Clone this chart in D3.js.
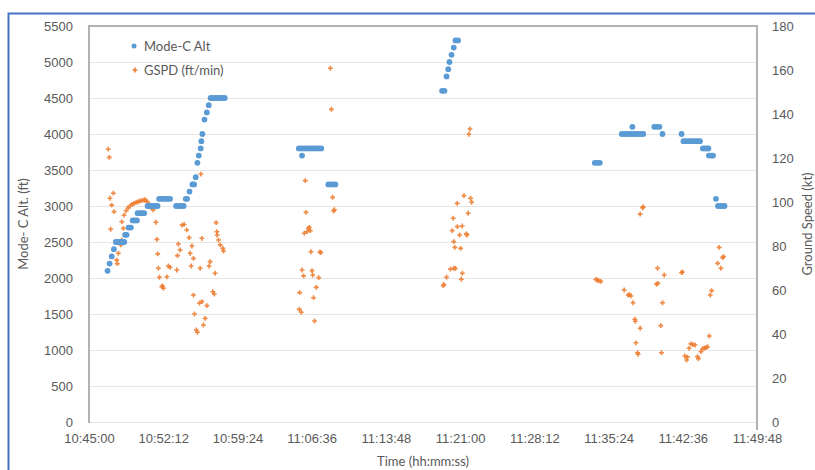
<!DOCTYPE html>
<html>
<head>
<meta charset="utf-8">
<script src="https://cdn.jsdelivr.net/npm/d3@7"></script>
<style>
  html, body { margin: 0; padding: 0; background: #fff; }
  svg { display: block; font-family: Lato, "Open Sans", "Liberation Sans", sans-serif; }
</style>
</head>
<body>
<svg id="chart" width="815" height="470"></svg>
<script>
// Flight track: Mode-C altitude (ft) and ground speed (kt) against time of day.
// Times are seconds after 10:45:00.
const startClock = "10:45:00";

const altSec = [
  108, 120, 132, 145,
  156, 168, 181, 193, 205,
  210, 219, 230, 244,
  254, 266, 279,
  283, 296, 308, 321,
  341, 353, 364, 376, 388, 399,
  408, 421, 434, 447, 459, 472,
  507, 522, 536, 551,
  563, 571, 585, 602, 612, 621,
  631, 639, 650, 654, 660, 672, 686, 697,
  708, 720, 732, 743, 755, 767, 778, 790,
  1221, 1234, 1240, 1247, 1261, 1274, 1287, 1300, 1313, 1326, 1339, 1352,
  1393, 1406, 1420, 1434,
  2055, 2069, 2081, 2091, 2098, 2110, 2123, 2133, 2148,
  2944, 2958, 2973,
  3101, 3115, 3129, 3143, 3157, 3163, 3171, 3185, 3199, 3213, 3226,
  3290, 3305, 3320, 3338, 3449,
  3460, 3473, 3487, 3501, 3515, 3529, 3542, 3556,
  3573, 3584, 3596, 3605,
  3608, 3623, 3632,
  3649, 3661, 3675, 3690, 3699
];
const altFt = [
  2100, 2200, 2300, 2400,
  2500, 2500, 2500, 2500, 2500,
  2600, 2600, 2700, 2700,
  2800, 2800, 2800,
  2900, 2900, 2900, 2900,
  3000, 3000, 3000, 3000, 3000, 3000,
  3100, 3100, 3100, 3100, 3100, 3100,
  3000, 3000, 3000, 3000,
  3100, 3100, 3200, 3300, 3300, 3400,
  3600, 3700, 3800, 3900, 4000, 4200, 4300, 4400,
  4500, 4500, 4500, 4500, 4500, 4500, 4500, 4500,
  3800, 3800, 3700, 3800, 3800, 3800, 3800, 3800, 3800, 3800, 3800, 3800,
  3300, 3300, 3300, 3300,
  4600, 4600, 4800, 4900, 5000, 5100, 5200, 5300, 5300,
  3600, 3600, 3600,
  4000, 4000, 4000, 4000, 4000, 4100, 4000, 4000, 4000, 4000, 4000,
  4100, 4100, 4100, 4000, 4000,
  3900, 3900, 3900, 3900, 3900, 3900, 3900, 3900,
  3800, 3800, 3800, 3800,
  3700, 3700, 3700,
  3100, 3000, 3000, 3000, 3000
];

const gsSec = [
  112, 118, 142, 122, 132, 146, 126, 161, 165, 171, 185, 191, 191, 200,
  204, 216, 227, 239, 251, 262, 274, 286, 297, 309, 321, 329, 338, 347, 356, 364, 373,
  389, 395, 400, 404, 410, 424, 428, 433, 453, 462, 472,
  511, 515, 520, 530, 542, 554, 569, 583, 589, 595, 599, 608, 608, 614,
  624, 631, 643, 647, 651, 657, 657, 666, 676, 686,
  699, 705, 721, 729, 734, 740, 744, 746, 754, 764, 779, 783,
  1224, 1226, 1236, 1240, 1249, 1253, 1259, 1263, 1269, 1278, 1282, 1288,
  1292, 1298, 1302, 1307, 1313, 1323, 1337, 1344, 1349,
  1405, 1411, 1418, 1424, 1428,
  2062, 2066, 2081, 2104, 2114, 2120, 2123, 2124, 2129, 2133, 2143, 2144,
  2157, 2163, 2167, 2172, 2173, 2182, 2196, 2200, 2207, 2211, 2217, 2221, 2227,
  2950, 2958, 2967, 2979,
  3115, 3138, 3145, 3154, 3167, 3177, 3180, 3183, 3193, 3196, 3208, 3208,
  3222, 3226, 3303, 3311, 3309, 3328, 3332, 3338, 3348,
  3449, 3454, 3468, 3478, 3483, 3493, 3503, 3515, 3527, 3542, 3547,
  3562, 3571, 3582, 3591, 3600, 3610, 3616, 3624,
  3659, 3668, 3678, 3688, 3693
];
const gsKt = [
  124, 120.3, 104, 101.7, 98.6, 95.6, 87.6, 73.6, 72, 76.7, 80.5, 82.7, 91, 88,
  94, 96, 97.3, 98.2, 98.9, 99.4, 99.8, 100.1, 100.5, 100.7, 100.9, 100.9, 100.2, 99.3, 98.4, 97.5, 96.4,
  90.8, 83, 76.4, 69.9, 65.8, 61.5, 61.8, 60.8, 66, 70.9, 70.3,
  69.1, 75.6, 80.9, 78.2, 89.5, 89.8, 87.3, 83.8, 76.7, 70.9, 80, 74.4, 57.7, 49.1,
  41.8, 40.8, 54, 69.9, 112.7, 83.5, 54.7, 44.1, 47.1, 52.9,
  70.9, 72.9, 59.2, 58.2, 67.6, 90.6, 86.5, 85, 82.7, 80.5, 78.9, 77.7,
  51.2, 58.8, 49.9, 69.1, 66.4, 85.8, 109.7, 95.3, 86.5, 88, 88.5, 87,
  77.4, 68.8, 66.8, 56.5, 45.9, 61.2, 65.6, 77.3, 77,
  160.8, 142.1, 102.1, 95.9, 96.5,
  62, 62.5, 65.8, 69.5, 87, 92.6, 82, 69.9, 79.4, 69.8, 99.4, 88.8,
  85, 78.9, 64.9, 89.1, 67.6, 102.9, 85.5, 85, 94.9, 130.8, 133.2, 101.7, 99.9,
  64.8, 64.5, 64.2, 63.9,
  60, 57.7, 57.9, 57.3, 54.2, 46.7, 45.8, 36, 31.5, 30.8, 94.5, 42.6,
  97.4, 97.8, 62.6, 63, 69.9, 43.8, 31.5, 54.2, 66.8,
  67.9, 68.2, 30, 28.2, 29.5, 33.5, 35.5, 35.2, 35, 29.7, 28.8,
  32, 33.3, 33.6, 33.8, 34.2, 39.1, 57.7, 59.7,
  72.1, 79.4, 69.9, 74.7, 75.2
];

const timeTicks = ["10:45:00", "10:52:12", "10:59:24", "11:06:36", "11:13:48",
                   "11:21:00", "11:28:12", "11:35:24", "11:42:36", "11:49:48"];
const altTicks = [0, 500, 1000, 1500, 2000, 2500, 3000, 3500, 4000, 4500, 5000, 5500];
const gsTicks = [0, 20, 40, 60, 80, 100, 120, 140, 160, 180];

const seriesNames = ["Mode-C Alt", "GSPD (ft/min)"];
const colors = { alt: "#5B9BD5", gs: "#ED7D31" };

const toSec = s => { const [h, m, x] = s.split(":").map(Number); return h * 3600 + m * 60 + x; };
const base = toSec(startClock);
const tickSec = timeTicks.map(t => toSec(t) - base);

const svg = d3.select("#chart");
const W = 815, H = 470;
const m = { left: 89, right: 757, top: 26, bottom: 422 };

// Outer frame
svg.append("rect").attr("x", 8.5).attr("y", 13.5).attr("width", W + 10).attr("height", H + 10)
  .attr("fill", "#fff").attr("stroke", "#4472C4").attr("stroke-width", 2);

const x = d3.scaleLinear().domain([0, tickSec[tickSec.length - 1]]).range([m.left, m.right]);
const yL = d3.scaleLinear().domain([0, 5500]).range([m.bottom, m.top]);
const yR = d3.scaleLinear().domain([0, 180]).range([m.bottom, m.top]);

const textColor = "#595959";

// Horizontal gridlines
svg.append("g").selectAll("line").data(altTicks).join("line")
  .attr("x1", m.left).attr("x2", m.right)
  .attr("y1", d => yL(d) + 0.5).attr("y2", d => yL(d) + 0.5)
  .attr("stroke", "#e6e6e6").attr("stroke-width", 1.2);

// Left axis
const axL = svg.append("g").attr("transform", `translate(${m.left},0)`)
  .call(d3.axisLeft(yL).tickValues(altTicks).tickSize(0).tickPadding(16).tickFormat(d3.format("d")));
axL.select(".domain").remove();
axL.selectAll("text").attr("fill", textColor).style("font-size", "13px");

// Right axis
const axR = svg.append("g").attr("transform", `translate(${m.right},0)`)
  .call(d3.axisRight(yR).tickValues(gsTicks).tickSize(0).tickPadding(15));
axR.select(".domain").remove();
axR.selectAll("text").attr("fill", textColor).style("font-size", "13px");

// Bottom axis
const axB = svg.append("g").attr("transform", `translate(0,${m.bottom})`)
  .call(d3.axisBottom(x).tickValues(tickSec).tickSize(0).tickPadding(12)
    .tickFormat((d, i) => timeTicks[i]));
axB.select(".domain").remove();
axB.selectAll("text").attr("fill", textColor).style("font-size", "13px");

// Plot frame lines (left, top, right)
svg.append("path")
  .attr("d", `M${m.left},${m.bottom + 1} V${m.top} H${m.right} V${m.bottom + 8}`)
  .attr("fill", "none").attr("stroke", "#b3b3b3").attr("stroke-width", 2);

// Axis titles
svg.append("text").attr("transform", `translate(28,${(m.top + m.bottom) / 2}) rotate(-90)`)
  .attr("text-anchor", "middle").attr("fill", textColor).style("font-size", "13px")
  .text("Mode- C Alt. (ft)");
svg.append("text").attr("transform", `translate(812,${(m.top + m.bottom) / 2}) rotate(-90)`)
  .attr("text-anchor", "middle").attr("fill", textColor).style("font-size", "13px")
  .text("Ground Speed (kt)");
svg.append("text").attr("x", (m.left + m.right) / 2).attr("y", 466)
  .attr("text-anchor", "middle").attr("fill", textColor).style("font-size", "13px")
  .text("Time (hh:mm:ss)");

// Ground speed markers (right axis)
const cross = d3.symbol().type(d3.symbolCross).size(13);
svg.append("g").selectAll("path").data(d3.range(gsSec.length)).join("path")
  .attr("d", cross)
  .attr("transform", i => `translate(${x(gsSec[i])},${yR(gsKt[i])})`)
  .attr("fill", colors.gs).attr("opacity", 0.9);

// Altitude markers (left axis)
svg.append("g").selectAll("circle").data(d3.range(altSec.length)).join("circle")
  .attr("cx", i => x(altSec[i])).attr("cy", i => yL(altFt[i]))
  .attr("r", 2.9).attr("fill", colors.alt);

// Legend
const lg = svg.append("g");
lg.append("circle").attr("cx", 134).attr("cy", 46).attr("r", 2.5).attr("fill", colors.alt);
lg.append("path").attr("d", cross).attr("transform", "translate(135,70)").attr("fill", colors.gs);
lg.selectAll("text").data(seriesNames).join("text")
  .attr("x", 144).attr("y", (d, i) => 46 + i * 24).attr("dy", "0.35em")
  .attr("fill", textColor).style("font-size", "13px").text(d => d);
</script>
</body>
</html>
